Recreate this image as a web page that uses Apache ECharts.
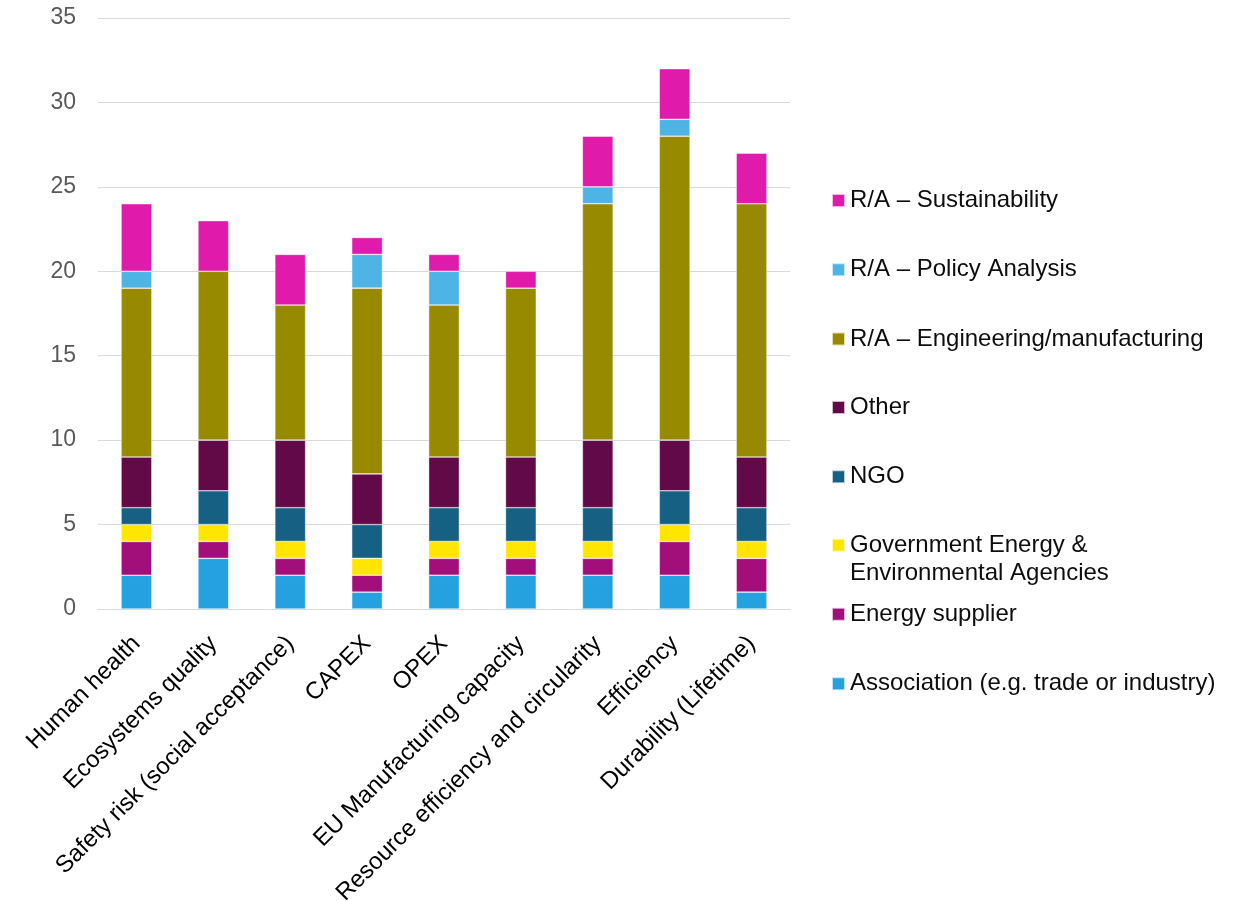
<!DOCTYPE html>
<html>
<head>
<meta charset="utf-8">
<script src="https://cdn.jsdelivr.net/npm/echarts@6/dist/echarts.min.js"></script>
<style>
html,body{margin:0;padding:0;background:#fff;}
#chart{width:1240px;height:901px;}
</style>
</head>
<body>
<div id="chart"></div>
<script>
var categories = ['Human health','Ecosystems quality','Safety risk (social acceptance)','CAPEX','OPEX','EU Manufacturing capacity','Resource efficiency and circularity','Efficiency','Durability (Lifetime)'];
var association = [2,3,2,1,2,2,2,2,1];
var energySupplier = [2,1,1,1,1,1,1,2,2];
var government = [1,1,1,1,1,1,1,1,1];
var ngo = [1,2,2,2,2,2,2,2,2];
var other = [3,3,4,3,3,3,4,3,3];
var engineering = [10,10,8,11,9,10,14,18,15];
var policy = [1,0,0,2,2,0,1,1,0];
var sustainability = [4,3,3,1,1,1,3,3,3];
var yTicks = [0,5,10,15,20,25,30,35];

var seriesDefs = [
  {name:'Association (e.g. trade or industry)', data:association, color:'#26A1E0'},
  {name:'Energy supplier', data:energySupplier, color:'#A30F7A'},
  {name:'Government Energy &\nEnvironmental Agencies', data:government, color:'#FFE600'},
  {name:'NGO', data:ngo, color:'#156083'},
  {name:'Other', data:other, color:'#620A47'},
  {name:'R/A – Engineering/manufacturing', data:engineering, color:'#988A00'},
  {name:'R/A – Policy Analysis', data:policy, color:'#4EB4E6'},
  {name:'R/A – Sustainability', data:sustainability, color:'#E01AAB'}
];

var FONT = 'Arial, "Liberation Sans", sans-serif';
var legendCenters = [683.7, 614.3, 545.3, 476.7, 407.5, 339, 269.7, 200.5];

var legends = seriesDefs.map(function(s, i){
  var twoLine = s.name.indexOf('\n') >= 0;
  return {
    left: 831,
    top: legendCenters[i] - 14,
    orient: 'vertical',
    padding: 0,
    itemWidth: 13,
    itemHeight: twoLine ? 41 : 13,
    icon: twoLine ? 'path://M0,0L13,0L13,13L0,13Z M0,40.9L0.1,40.9L0.1,41L0,41Z' : 'rect',
    selectedMode: false,
    data: [s.name],
    textStyle: {fontFamily: FONT, fontSize: 24, color: '#0D0D0D', lineHeight: 28}
  };
});

var series = seriesDefs.map(function(s){
  return {
    name: s.name,
    type: 'bar',
    stack: 'total',
    barWidth: '40%',
    itemStyle: {color: s.color, borderColor: 'rgba(255,255,255,0.7)', borderWidth: 0.6},
    emphasis: {disabled: true},
    data: s.data.map(function(v){ return v === 0 ? null : v; })
  };
});

var chart = echarts.init(document.getElementById('chart'), null, {renderer: 'canvas'});
chart.setOption({
  animation: false,
  backgroundColor: '#fff',
  grid: {left: 98, right: 450, top: 18, bottom: 292, containLabel: false, outerBoundsMode: 'none'},
  legend: legends,
  xAxis: {
    type: 'category',
    data: categories,
    axisLine: {show: true, lineStyle: {color: '#D9D9D9', width: 1}},
    axisTick: {show: false},
    axisLabel: {interval: 0, rotate: 45, margin: 31, fontFamily: FONT, fontSize: 24, color: '#000'}
  },
  yAxis: {
    type: 'value',
    min: yTicks[0],
    max: yTicks[yTicks.length - 1],
    interval: yTicks[1] - yTicks[0],
    axisLine: {show: false},
    axisTick: {show: false},
    splitLine: {lineStyle: {color: '#D9D9D9', width: 1}},
    axisLabel: {margin: 22, fontFamily: FONT, fontSize: 23, color: '#595959'}
  },
  series: series
});
</script>
</body>
</html>
